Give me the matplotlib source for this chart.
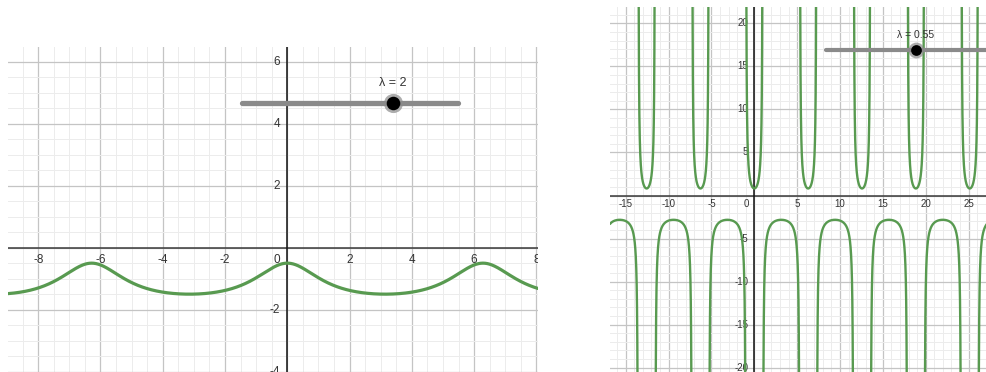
import numpy as np
import matplotlib
matplotlib.use('Agg')
import matplotlib.pyplot as plt
from matplotlib.transforms import offset_copy

plt.rcParams['font.family'] = ['Liberation Sans', 'DejaVu Sans']

# slider values shown in the two views
LAMBDAS = [2, 0.55]
SLIDER_LABELS = ['λ = 2', 'λ = 0.55']

# tick labels of each view
LEFT_XTICKS = [-8, -6, -4, -2, 0, 2, 4, 6, 8]
LEFT_YTICKS = [-4, -2, 2, 4, 6]
RIGHT_XTICKS = [-15, -10, -5, 0, 5, 10, 15, 20, 25]
RIGHT_YTICKS = [-20, -15, -10, -5, 5, 10, 15, 20]

CURVE = '#589a50'
W, H = 987, 372


def f(x, lam):
    # (1 - 2λcos x + λ²) / (λ (cos x - λ))
    den = np.cos(x) - lam
    return (1 - 2 * lam * np.cos(x) + lam ** 2) / (lam * den), den


def px_axes(fig, left, top, right, bottom):
    return fig.add_axes([left / W, 1 - bottom / H, (right - left) / W, (bottom - top) / H])


def setup(ax, xlim, ylim, major, minor, xt, yt, fs, xoff, yoff, zoff):
    ax.set_xlim(*xlim)
    ax.set_ylim(*ylim)
    ax.set_xticks(np.arange(np.ceil(xlim[0] / major) * major, xlim[1], major))
    ax.set_yticks(np.arange(np.ceil(ylim[0] / major) * major, ylim[1], major))
    ax.set_xticks(np.arange(np.ceil(xlim[0] / minor) * minor, xlim[1], minor), minor=True)
    ax.set_yticks(np.arange(np.ceil(ylim[0] / minor) * minor, ylim[1], minor), minor=True)
    ax.grid(which='major', color='#c4c4c4', lw=0.9)
    ax.grid(which='minor', color='#ececec', lw=0.7)
    ax.set_axisbelow(True)
    ax.tick_params(which='both', length=0, labelbottom=False, labelleft=False)
    for s in ax.spines.values():
        s.set_visible(False)
    ax.axhline(0, color='#3a3a3a', lw=1.1, zorder=2)
    ax.axvline(0, color='#111111', lw=1.1, zorder=2)

    fig = ax.figure
    tx = offset_copy(ax.transData, fig, x=0, y=xoff, units='dots')
    for v in xt:
        if v == 0:
            continue
        ax.text(v, 0, str(v), transform=tx, ha='center', va='center',
                fontsize=fs, color='#333333', clip_on=True)
    t0 = offset_copy(ax.transData, fig, x=zoff, y=xoff, units='dots')
    ax.text(0, 0, '0', transform=t0, ha='center', va='center',
            fontsize=fs, color='#333333', clip_on=True)
    ty = offset_copy(ax.transData, fig, x=yoff, y=0, units='dots')
    for v in yt:
        ax.text(0, v, str(v), transform=ty, ha='right', va='center',
                fontsize=fs, color='#333333', clip_on=True)


def draw_curve(ax, lam, xlim, lw):
    x = np.linspace(xlim[0], xlim[1], 40000)
    y, den = f(x, lam)
    y[np.abs(y) > 80] = np.nan
    # break the line where the denominator changes sign
    jump = np.where(np.sign(den[1:]) != np.sign(den[:-1]))[0]
    y[jump] = np.nan
    y[jump + 1] = np.nan
    ax.plot(x, y, color=CURVE, lw=lw, solid_capstyle='round', zorder=3)


def slider(ax, x0, x1, y, xp, label, lw, s_halo, s_dot, fs, dy):
    ax.plot([x0, x1], [y, y], color='#8a8a8a', lw=lw, solid_capstyle='round', zorder=4)
    ax.scatter([xp], [y], s=s_halo, color='#8a8a8a', alpha=0.7, zorder=5, linewidths=0)
    ax.scatter([xp], [y], s=s_dot, color='black', zorder=6, linewidths=0)
    tl = offset_copy(ax.transData, ax.figure, x=0, y=dy, units='dots')
    ax.text(xp, y, label, transform=tl, ha='center', va='center',
            fontsize=fs, color='#333333', zorder=7)


fig = plt.figure(figsize=(W / 100, H / 100), dpi=100)

# left view
axl = px_axes(fig, 8, 47, 538, 372)
lxlim, lylim = (-8.97, 8.05), (-4.01, 6.47)
setup(axl, lxlim, lylim, 2, 0.5, LEFT_XTICKS, LEFT_YTICKS, 8.5, -12.5, -7, -10.5)
draw_curve(axl, LAMBDAS[0], lxlim, 2.3)
slider(axl, -1.45, 5.48, 4.68, 3.40, SLIDER_LABELS[0], 3.8, 190, 95, 9, 20)

# right view
axr = px_axes(fig, 610, 7, 987, 372)
rxlim, rylim = (-16.84, 27.15), (-20.5, 21.9)
setup(axr, rxlim, rylim, 5, 1, RIGHT_XTICKS, RIGHT_YTICKS, 7, -8.6, -6, -7.6)
draw_curve(axr, LAMBDAS[1], rxlim, 1.7)
slider(axr, 8.37, 30, 16.94, 18.87, SLIDER_LABELS[1], 3.0, 130, 60, 7.5, 15)

fig.savefig('out.png', dpi=100)
